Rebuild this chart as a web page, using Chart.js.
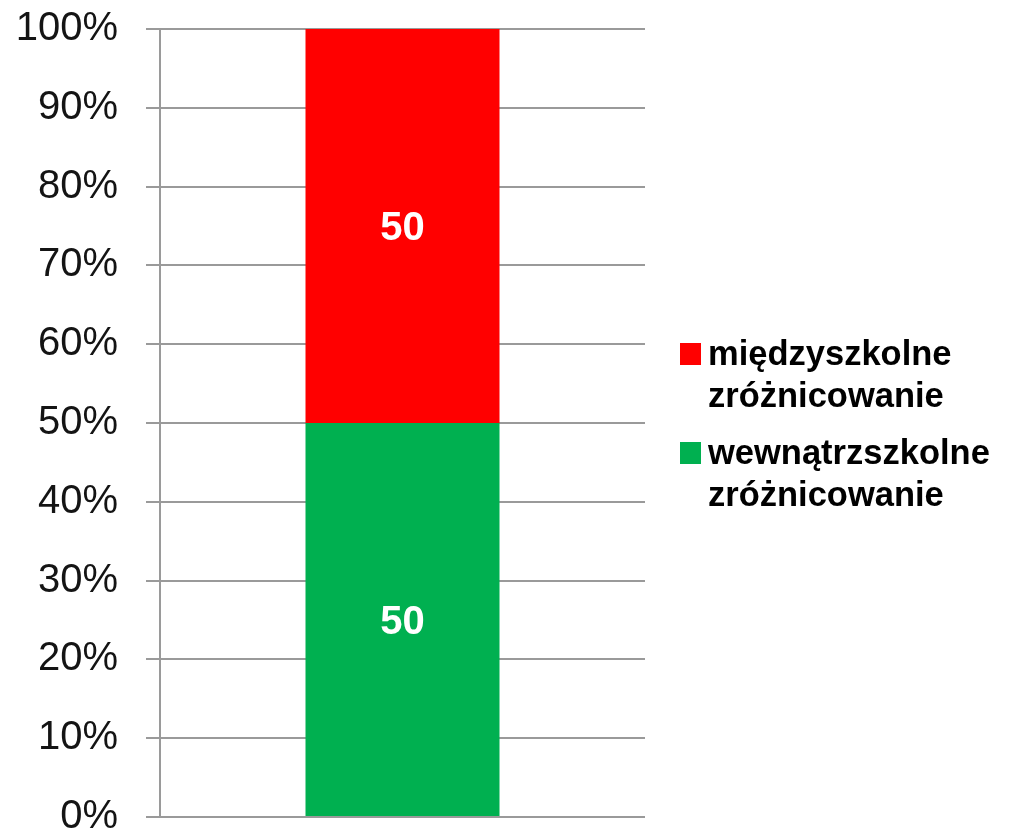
<!DOCTYPE html>
<html>
<head>
<meta charset="utf-8">
<script src="https://cdn.jsdelivr.net/npm/chart.js@4/dist/chart.umd.min.js"></script>
<style>
  html, body { margin: 0; padding: 0; background: #fff; }
  #wrap { width: 1025px; height: 834px; position: relative; }
</style>
</head>
<body>
<div id="wrap"><canvas id="c" width="1025" height="834"></canvas></div>
<script>
const categories = [''];
const seriesNames = ['wewnątrzszkolne zróżnicowanie', 'międzyszkolne zróżnicowanie'];
const legendLines = [['wewnątrzszkolne', 'zróżnicowanie'], ['międzyszkolne', 'zróżnicowanie']];
const withinValues = [50];
const betweenValues = [50];
const seriesColors = ['#00B050', '#FF0000'];
const yTicks = [0, 10, 20, 30, 40, 50, 60, 70, 80, 90, 100];

const dataLabelPlugin = {
  id: 'dataLabels',
  afterDatasetsDraw(chart) {
    const ctx = chart.ctx;
    ctx.save();
    ctx.fillStyle = '#ffffff';
    ctx.font = 'bold 40px "Liberation Sans", Arial, sans-serif';
    ctx.textAlign = 'center';
    ctx.textBaseline = 'middle';
    chart.data.datasets.forEach((ds, i) => {
      const meta = chart.getDatasetMeta(i);
      meta.data.forEach((el, j) => {
        const v = ds.data[j];
        const y = (el.y + el.base) / 2;
        ctx.fillText(String(v), el.x, y + 3);
      });
    });
    ctx.restore();
  }
};

const customLegendPlugin = {
  id: 'customLegend',
  afterDraw(chart) {
    const ctx = chart.ctx;
    ctx.save();
    ctx.font = 'bold 34.5px "Liberation Sans", Arial, sans-serif';
    ctx.textAlign = 'left';
    ctx.textBaseline = 'alphabetic';
    const order = [1, 0];
    const x0 = 680;
    let baseline = 365;
    const lineH = 42;
    const itemGap = 57;
    order.forEach((idx) => {
      ctx.fillStyle = chart.data.datasets[idx].backgroundColor;
      ctx.fillRect(x0, baseline - 22, 21, 22);
      ctx.fillStyle = '#000000';
      legendLines[idx].forEach((line, k) => {
        ctx.fillText(line, x0 + 28, baseline + k * lineH);
      });
      baseline += lineH * (legendLines[idx].length - 1) + itemGap;
    });
    ctx.restore();
  }
};

new Chart(document.getElementById('c'), {
  type: 'bar',
  data: {
    labels: categories,
    datasets: [
      { label: seriesNames[0], data: withinValues, backgroundColor: seriesColors[0], borderWidth: 0 },
      { label: seriesNames[1], data: betweenValues, backgroundColor: seriesColors[1], borderWidth: 0 }
    ]
  },
  options: {
    responsive: false,
    animation: false,
    maintainAspectRatio: false,
    layout: { padding: { left: 0, right: 380, top: 29, bottom: 17 } },
    datasets: { bar: { barPercentage: 0.4, categoryPercentage: 1 } },
    plugins: {
      legend: { display: false },
      tooltip: { enabled: false }
    },
    scales: {
      x: {
        stacked: true,
        display: false
      },
      y: {
        stacked: true,
        min: 0,
        max: 100,
        afterBuildTicks(scale) { scale.ticks = yTicks.map(v => ({ value: v })); },
        afterFit(scale) {
          scale.width = 160;
          scale.paddingTop = 0;
          scale.paddingBottom = 0;
        },
        ticks: {
          callback: (v) => v + '%',
          color: '#141414',
          padding: 28,
          font: { family: '"Liberation Sans", Arial, sans-serif', size: 40 }
        },
        grid: {
          color: '#9a9a9a',
          lineWidth: 2,
          tickLength: 14,
          drawTicks: true
        },
        border: { display: true, color: '#9a9a9a', width: 2 }
      }
    }
  },
  plugins: [dataLabelPlugin, customLegendPlugin]
});
</script>
</body>
</html>
